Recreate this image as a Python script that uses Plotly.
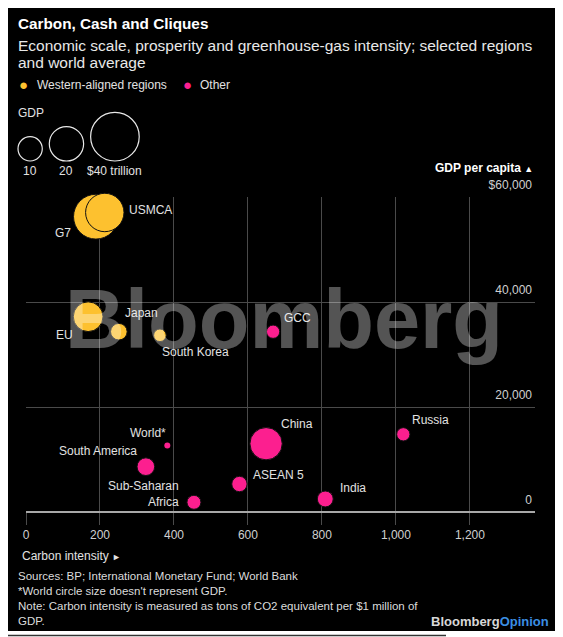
import plotly.graph_objects as go

W, H = 563, 637          # reference picture size
OFF = 8                  # page body margin in front of the plot div
FIG_W, FIG_H = W - OFF, H - OFF

# carbon intensity (t CO2e per $1m GDP), GDP per capita ($), GDP ($ trillion)
western = ["G7", "USMCA", "EU", "Japan", "South Korea"]
western_carbon = [189, 213, 168, 251, 362]
western_gdp_pc = [56250, 57050, 37200, 34340, 33660]
western_gdp = [34, 25, 15, 4.7, 2.7]

other = ["GCC", "China", "Russia", "South America", "ASEAN 5", "India", "Sub-Saharan<br>Africa"]
other_carbon = [668, 649, 1020, 324, 577, 809, 454]
other_gdp_pc = [34340, 13010, 14800, 8630, 5330, 2480, 1850]
other_gdp = [3.0, 17.7, 3.0, 5.3, 4.0, 4.3, 3.3]

world = "World*"
world_carbon = 382
world_gdp_pc = 12650

legend_gdp = [10, 20, 40]
legend_labels = ["10", "20", "$40 trillion"]

x_ticks = [0, 200, 400, 600, 800, 1000, 1200]
y_ticks = [0, 20000, 40000, 60000]
y_ticktext = ["0", "20,000", "40,000", "$60,000"]

YELLOW = "#fdc12f"
PINK = "#fc1f8f"
GRID = "#4a4a4a"
TXT = "#e2e2e2"
FONT = "Liberation Sans, Arial, sans-serif"
SIZEREF = 2 / 7.68 ** 2   # ~7.7px diameter per sqrt($trillion)

# label placement: (xanchor, xshift px, yshift px)
label_pos = {
    "USMCA": ("left", 22, 2),
    "G7": ("right", -23, -16),
    "EU": ("right", -13, -18),
    "Japan": ("left", 4, 19),
    "South Korea": ("left", 0, -17),
    "GCC": ("left", 9, 14),
    "China": ("left", 13, 20),
    "Russia": ("left", 7, 14),
    "South America": ("right", -7, 16),
    "ASEAN 5": ("left", 12, 9),
    "India": ("left", 13, 11),
    "Sub-Saharan<br>Africa": ("right", -13, 8),
    "World*": ("right", 1, 13),
}


# picture pixel -> paper fraction
def fx(p):
    return (p - OFF) / FIG_W


def fy(p):
    return 1 - (p - OFF) / FIG_H


fig = go.Figure()

bubble = dict(sizemode="area", sizeref=SIZEREF, opacity=1, line=dict(color="#111", width=1))

fig.add_trace(go.Scatter(
    x=western_carbon, y=western_gdp_pc, mode="markers", cliponaxis=False,
    marker=dict(size=western_gdp, color=YELLOW, **bubble), text=western,
    hovertemplate="%{text}<extra></extra>"))
fig.add_trace(go.Scatter(
    x=other_carbon, y=other_gdp_pc, mode="markers", cliponaxis=False,
    marker=dict(size=other_gdp, color=PINK, **bubble), text=other,
    hovertemplate="%{text}<extra></extra>"))
fig.add_trace(go.Scatter(
    x=[world_carbon], y=[world_gdp_pc], mode="markers", cliponaxis=False,
    marker=dict(size=6, color=PINK, opacity=1), hovertemplate="World<extra></extra>"))

# GDP size key, drawn on a pixel-scaled overlay axis
key_left, key_bottom, key_gap = 18, 161, 7
key_x, key_y = [], []
left = key_left
for v in legend_gdp:
    d = (2 * v / SIZEREF) ** 0.5
    key_x.append(left + d / 2)
    key_y.append(key_bottom - d / 2)
    left += d + key_gap
fig.add_trace(go.Scatter(
    x=key_x, y=key_y, xaxis="x2", yaxis="y2", mode="markers", hoverinfo="skip",
    cliponaxis=False,
    marker=dict(size=legend_gdp, sizemode="area", sizeref=SIZEREF, opacity=1,
                color="rgba(0,0,0,0)", line=dict(color="#e8e8e8", width=1.2))))

ann = []
names = western + other + [world]
xs = western_carbon + other_carbon + [world_carbon]
ys = western_gdp_pc + other_gdp_pc + [world_gdp_pc]
for n, x, y in zip(names, xs, ys):
    anchor, dx, dy = label_pos[n]
    ann.append(dict(x=x, y=y, xref="x", yref="y", text=n, showarrow=False,
                    xanchor=anchor, yanchor="middle", xshift=dx, yshift=dy,
                    align=anchor, font=dict(size=12, color=TXT)))

for kx, lab in zip(key_x, legend_labels):
    ann.append(dict(x=fx(kx), y=fy(171), xref="paper", yref="paper", text=lab,
                    showarrow=False, xanchor="center", yanchor="middle",
                    font=dict(size=12, color=TXT)))


def txt(text, x, y, size=12, color=TXT, xanchor="left", **kw):
    ann.append(dict(x=fx(x), y=fy(y), xref="paper", yref="paper", text=text,
                    showarrow=False, xanchor=xanchor, yanchor="middle",
                    font=dict(size=size, color=color), **kw))


txt("<b>Carbon, Cash and Cliques</b>", 16, 23, size=15.3, color="white")
txt("Economic scale, prosperity and greenhouse-gas intensity; selected regions",
    16, 45, size=15.5, color="#e8e8e8")
txt("and world average", 16, 63, size=15.5, color="#e8e8e8")
txt("●", 23, 84, size=15, color=YELLOW, xanchor="center")
txt("Western-aligned regions", 35, 85)
txt("●", 187, 84, size=15, color=PINK, xanchor="center")
txt("Other", 198, 85)
txt("GDP", 16, 113)
txt("<b>GDP per capita</b> <span style='font-size:9px'>▲</span>", 535, 168, xanchor="right",
    color="white")
txt("Carbon intensity <span style='font-size:9px'>►</span>", 20, 556)
txt("Sources: BP; International Monetary Fund; World Bank<br>"
    "*World circle size doesn't represent GDP.<br>"
    "Note: Carbon intensity is measured as tons of CO2 equivalent per $1 million of<br>GDP.",
    16, 598, size=11.5, color="#dcdcdc", align="left")
txt("<b>Bloomberg<span style='color:#3b8fe3'>Opinion</span></b>", 551, 621, size=13,
    color="#d8d8d8", xanchor="right")
# watermark over the chart
txt("<b>Bloomberg</b>", 284, 319, size=83, color="rgba(255,255,255,0.33)", xanchor="center")

fig.update_layout(
    width=FIG_W, height=FIG_H, autosize=False,
    margin=dict(l=0, r=0, t=0, b=0, pad=0, autoexpand=False),
    paper_bgcolor="white", plot_bgcolor="rgba(0,0,0,0)",
    showlegend=False, font=dict(family=FONT, color=TXT),
    annotations=ann,
    shapes=[
        dict(type="rect", xref="paper", yref="paper", x0=fx(7), x1=fx(556),
             y0=fy(631), y1=fy(8), fillcolor="black", line=dict(width=0), layer="below"),
        dict(type="line", xref="paper", yref="paper", x0=0, x1=fx(446),
             y0=fy(635.5), y1=fy(635.5), line=dict(color="#333", width=1.5)),
    ],
    xaxis=dict(domain=[fx(26), fx(535)], range=[0, 1376], tickvals=x_ticks,
               tickformat=",", showgrid=True, gridcolor=GRID, gridwidth=1,
               zeroline=False, showline=False, ticks="outside", ticklen=12,
               tickcolor=GRID, tickfont=dict(size=12, color="#d0d0d0"), automargin=False),
    yaxis=dict(domain=[fy(512), fy(197)], range=[0, 60000], side="right",
               tickvals=y_ticks, ticktext=y_ticktext, ticklabelposition="inside top",
               ticklabeloverflow="allow", ticklabelshift=-4, showgrid=True, gridcolor=GRID,
               zeroline=True, zerolinecolor="#a8a8a8", zerolinewidth=1.5,
               ticks="", tickfont=dict(size=12, color="#d0d0d0"), automargin=False),
    xaxis2=dict(domain=[0, 1], range=[OFF, W], visible=False, anchor="y2", automargin=False),
    yaxis2=dict(domain=[0, 1], range=[H, OFF], visible=False, anchor="x2", automargin=False),
)

fig.write_html("out.html")
